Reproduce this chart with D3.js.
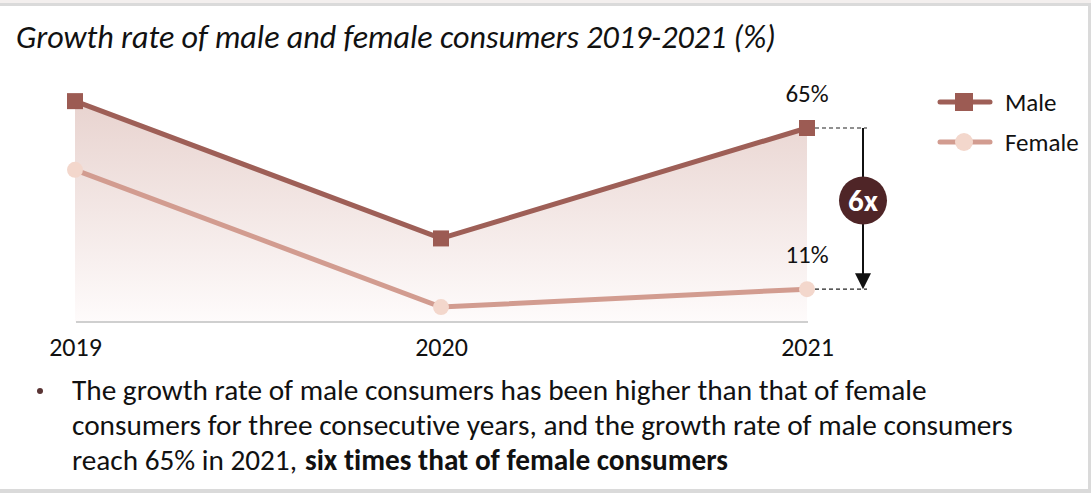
<!DOCTYPE html>
<html>
<head>
<meta charset="utf-8">
<script src="https://cdn.jsdelivr.net/npm/d3@7"></script>
<style>
  html, body { margin: 0; padding: 0; background: #fff; }
  svg { display: block; }
  text { font-family: Carlito, Lato, "Open Sans", sans-serif; fill: #111; font-variant-ligatures: none; }
</style>
</head>
<body>
<svg id="chart" width="1091" height="493"></svg>
<script>
// Growth rate (%) by consumer group
const years = ["2019", "2020", "2021"];
const maleValues = [74, 28, 65];
const femaleValues = [51, 5, 11];
const seriesNames = ["Male", "Female"];
const titleText = "Growth rate of male and female consumers 2019-2021 (%)";
const noteLines = [
  "The growth rate of male consumers has been higher than that of female",
  "consumers for three consecutive years, and the growth rate of male consumers"
];
const noteLast = ["reach 65% in 2021,", "six times that of female consumers"];

const W = 1091, H = 493;
const colMale = "#9c5b53", colMaleLine = "#9e5f57";
const colFemaleLine = "#d29c90", colFemaleDot = "#f3d7cc";
const colBadge = "#4f2527";

const svg = d3.select("#chart");

// size a text element so that it spans the given width
function fitWidth(sel, width) {
  sel.attr("font-size", 20);
  const len = sel.node().getComputedTextLength();
  sel.attr("font-size", (20 * width / len).toFixed(2));
  return sel;
}

// frame
svg.append("rect").attr("x", 0).attr("y", 0).attr("width", W).attr("height", 3).attr("fill", "#f3efee");
svg.append("rect").attr("x", 0).attr("y", 3).attr("width", W).attr("height", 3).attr("fill", "#dadada");
svg.append("rect").attr("x", 1088).attr("y", 3).attr("width", 3).attr("height", H).attr("fill", "#dadada");
svg.append("rect").attr("x", 0).attr("y", 489).attr("width", W).attr("height", 4).attr("fill", "#dadada");

// title
fitWidth(svg.append("text")
  .attr("x", 16).attr("y", 48)
  .attr("font-style", "italic")
  .text(titleText), 760);

// scales
const x = d3.scalePoint().domain(years).range([75, 807]);
const y = d3.scaleLinear().domain([0, 65]).range([322, 128]);

// gradient under the male line
const defs = svg.append("defs");
const grad = defs.append("linearGradient").attr("id", "areaGrad")
  .attr("x1", 0).attr("y1", 0).attr("x2", 0).attr("y2", 1);
grad.append("stop").attr("offset", "0%").attr("stop-color", "#e8d3cf");
grad.append("stop").attr("offset", "100%").attr("stop-color", "#fefbfb");

const maleData = years.map((d, i) => ({ year: d, v: maleValues[i] }));
const femaleData = years.map((d, i) => ({ year: d, v: femaleValues[i] }));

svg.append("path")
  .datum(maleData)
  .attr("fill", "url(#areaGrad)")
  .attr("d", d3.area().x(d => x(d.year)).y0(y(0)).y1(d => y(d.v)));

// x axis
const xAxis = svg.append("g").attr("transform", `translate(0,${y(0)})`)
  .call(d3.axisBottom(x).tickSize(0).tickPadding(16));
xAxis.select(".domain").attr("stroke", "#cfcfcf").attr("stroke-width", 2)
  .attr("d", `M${x(years[0]) + 1},0H${x(years[2]) + 1}`);
xAxis.selectAll("text").attr("font-size", 26).attr("fill", "#111")
  .style("font-family", "Carlito, Lato, 'Open Sans', sans-serif");

// lines
const line = d3.line().x(d => x(d.year)).y(d => y(d.v));
svg.append("path").datum(femaleData).attr("fill", "none")
  .attr("stroke", colFemaleLine).attr("stroke-width", 5).attr("d", line);
svg.append("path").datum(maleData).attr("fill", "none")
  .attr("stroke", colMaleLine).attr("stroke-width", 5).attr("d", line);

// markers
svg.selectAll(".fdot").data(femaleData).enter().append("circle")
  .attr("cx", d => x(d.year)).attr("cy", d => y(d.v)).attr("r", 8)
  .attr("fill", colFemaleDot);
svg.selectAll(".msq").data(maleData).enter().append("rect")
  .attr("x", d => x(d.year) - 8).attr("y", d => y(d.v) - 8)
  .attr("width", 16).attr("height", 16).attr("fill", colMale);

// value labels for 2021
const last = years.length - 1;
svg.append("text").attr("x", x(years[last])).attr("y", y(maleValues[last]) - 26)
  .attr("text-anchor", "middle").attr("font-size", 25).text(maleValues[last] + "%");
svg.append("text").attr("x", x(years[last])).attr("y", y(femaleValues[last]) - 26)
  .attr("text-anchor", "middle").attr("font-size", 25).text(femaleValues[last] + "%");

// ratio callout
const cx = 863;
const yTop = y(maleValues[last]), yBot = y(femaleValues[last]);
[yTop, yBot].forEach(yy => {
  svg.append("line").attr("x1", x(years[last]) + 8).attr("x2", cx + 4)
    .attr("y1", yy).attr("y2", yy)
    .attr("stroke", "#222").attr("stroke-width", 1.2).attr("stroke-dasharray", "4,3");
});
svg.append("line").attr("x1", cx).attr("x2", cx).attr("y1", yTop).attr("y2", yBot - 14)
  .attr("stroke", "#111").attr("stroke-width", 2);
svg.append("path")
  .attr("d", `M${cx - 8},${yBot - 16}L${cx + 8},${yBot - 16}L${cx},${yBot}Z`)
  .attr("fill", "#111");
const badgeY = (yTop + yBot) / 2 - 8;
svg.append("circle").attr("cx", cx).attr("cy", badgeY).attr("r", 24).attr("fill", colBadge);
svg.append("text").attr("x", cx).attr("y", badgeY + 10.5)
  .attr("text-anchor", "middle").attr("font-size", 31).attr("font-weight", "bold")
  .style("fill", "#fff")
  .text(Math.round(maleValues[last] / femaleValues[last]) + "x");

// legend
const legend = svg.append("g");
const legY = [102, 142];
legend.append("line").attr("x1", 940).attr("x2", 990).attr("y1", legY[0]).attr("y2", legY[0])
  .attr("stroke", colMaleLine).attr("stroke-width", 5).attr("stroke-linecap", "round");
legend.append("rect").attr("x", 955).attr("y", legY[0] - 9).attr("width", 18).attr("height", 18)
  .attr("fill", colMale);
legend.append("line").attr("x1", 940).attr("x2", 990).attr("y1", legY[1]).attr("y2", legY[1])
  .attr("stroke", colFemaleLine).attr("stroke-width", 5).attr("stroke-linecap", "round");
legend.append("circle").attr("cx", 964).attr("cy", legY[1]).attr("r", 9).attr("fill", colFemaleDot);
seriesNames.forEach((name, i) => {
  legend.append("text").attr("x", 1005).attr("y", legY[i] + 9)
    .attr("font-size", 25).text(name);
});

// note
svg.append("circle").attr("cx", 40).attr("cy", 391).attr("r", 3).attr("fill", "#5a3434");
const noteWidths = [855, 941];
noteLines.forEach((t, i) => {
  fitWidth(svg.append("text").attr("x", 72).attr("y", 400 + i * 35).text(t), noteWidths[i]);
});
fitWidth(svg.append("text").attr("x", 72).attr("y", 470).text(noteLast[0]), 225);
fitWidth(svg.append("text").attr("x", 305).attr("y", 470).attr("font-weight", "bold")
  .text(noteLast[1]), 423);
</script>
</body>
</html>
